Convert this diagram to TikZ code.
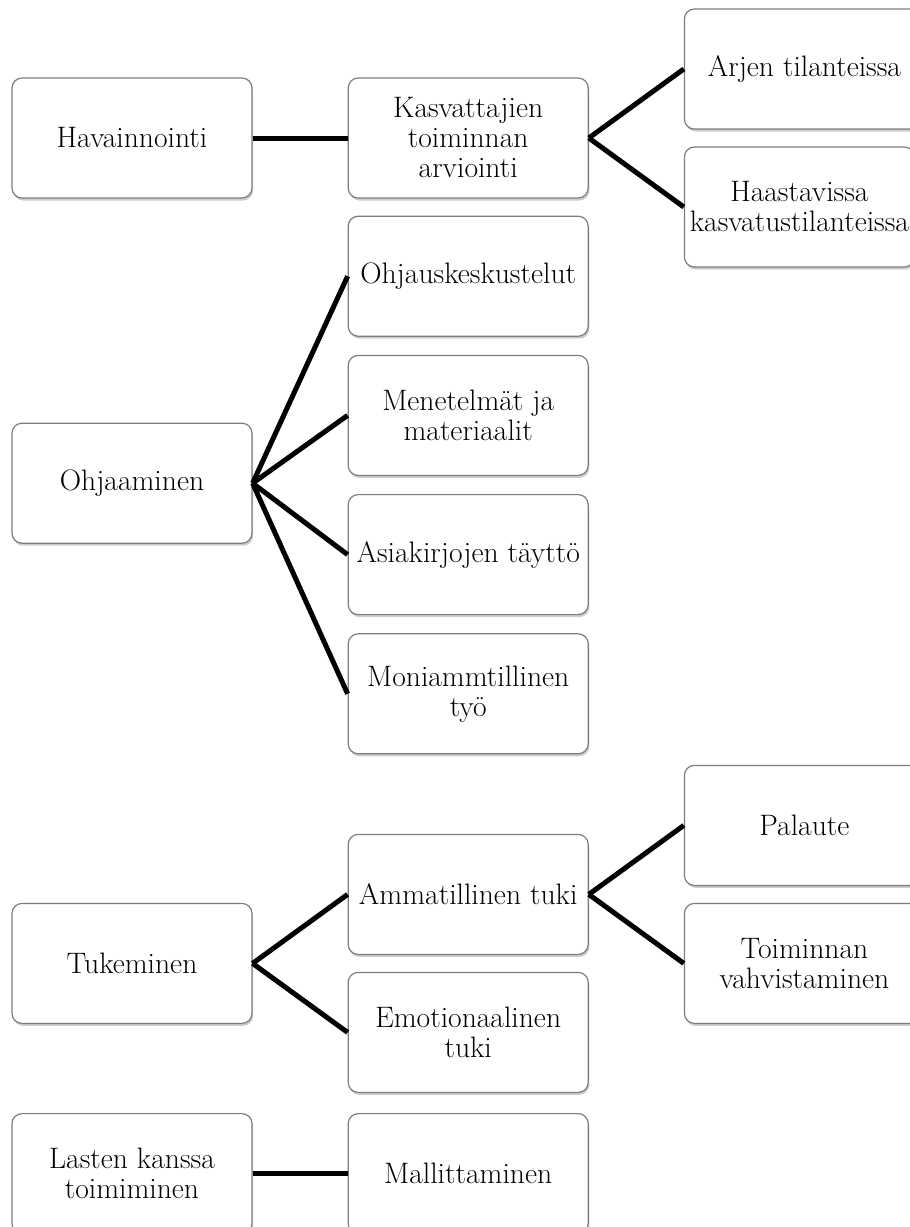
\documentclass[tikz,border=0pt]{standalone}
\usepackage{xcolor}
\usepackage{tikz}
\usetikzlibrary{positioning, shadows}

\definecolor{boxline}{RGB}{125,125,125}

\begin{document}
\begin{tikzpicture}[
    node distance=18pt and 95pt,
    item/.style={rectangle, draw=boxline, line width=1.2pt, rounded corners=10pt, fill=white, minimum width=240pt, minimum height=120pt, inner sep=1pt, align=center, font=\fontsize{29.6}{30}\selectfont, drop shadow={shadow xshift=1.2pt, shadow yshift=-2.5pt, opacity=0.4}},
    link/.style={line width=5pt, black},
]
\useasboundingbox (0,0) rectangle (910pt,-1227pt);
\clip (0,0) rectangle (910pt,-1227pt);

% Left column
\node[item] (hav) at (132pt,-138pt) {Havainnointi};
\node[item, below=224pt of hav] (ohj) {Ohjaaminen};
\node[item, below=359pt of ohj] (tuk) {Tukeminen};
\node[item, below=89pt of tuk] (lasten) {Lasten kanssa\\toimiminen};

% Middle column
\node[item, right=of hav] (kasv) {Kasvattajien\\toiminnan\\arviointi};
\node[item, right=of ohj, yshift=207pt] (keskust) {Ohjauskeskustelut};
\node[item, below=of keskust] (menet) {Menetelmät ja\\materiaalit};
\node[item, below=of menet] (asiak) {Asiakirjojen täyttö};
\node[item, below=of asiak] (moni) {Moniammtillinen\\työ};
\node[item, right=of tuk, yshift=69pt] (ammat) {Ammatillinen tuki};
\node[item, right=of tuk, yshift=-69pt] (emot) {Emotionaalinen\\tuki};
\node[item, right=of lasten] (mall) {Mallittaminen};

% Right column (runs past the page edge)
\node[item, right=of kasv, yshift=69pt] (arjen) {Arjen tilanteissa};
\node[item, right=of kasv, yshift=-69pt, minimum width=230pt] (haast) {Haastavissa\\kasvatustilanteissa};
\node[item, right=of ammat, yshift=69pt] (pal) {Palaute};
\node[item, right=of ammat, yshift=-69pt] (vahv) {Toiminnan\\vahvistaminen};

\draw[link] (hav.east) -- (kasv.west);
\draw[link] (kasv.east) -- (arjen.west);
\draw[link] (kasv.east) -- (haast.west);
\draw[link] (ohj.east) -- (keskust.west);
\draw[link] (ohj.east) -- (menet.west);
\draw[link] (ohj.east) -- (asiak.west);
\draw[link] (ohj.east) -- (moni.west);
\draw[link] (tuk.east) -- (ammat.west);
\draw[link] (tuk.east) -- (emot.west);
\draw[link] (ammat.east) -- (pal.west);
\draw[link] (ammat.east) -- (vahv.west);
\draw[link] (lasten.east) -- (mall.west);

\end{tikzpicture}
\end{document}
